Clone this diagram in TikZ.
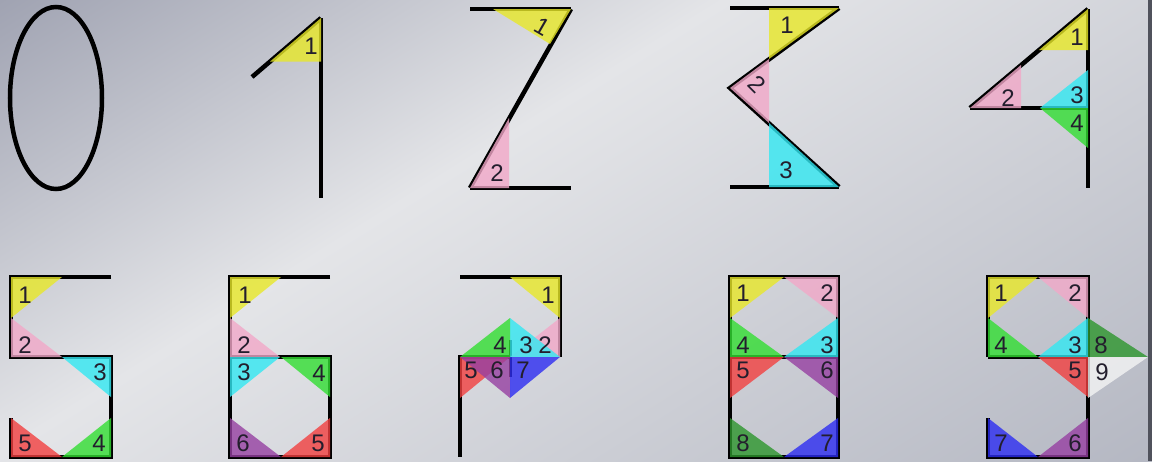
\documentclass[tikz,border=0pt]{standalone}
\usepackage{fontspec}
\setmainfont{Liberation Sans}
\definecolor{bgA}{RGB}{160,163,178}
\definecolor{bgB}{RGB}{228,229,232}
\definecolor{bgC}{RGB}{180,183,194}
\definecolor{bgD}{RGB}{80,82,92}
\definecolor{labc}{RGB}{35,30,45}
\definecolor{cY}{RGB}{232,232,40}
\definecolor{cP}{RGB}{242,168,200}
\definecolor{cC}{RGB}{50,232,242}
\definecolor{cG}{RGB}{50,222,50}
\definecolor{cR}{RGB}{242,64,64}
\definecolor{cV}{RGB}{150,64,162}
\definecolor{cB}{RGB}{45,45,242}
\definecolor{cD}{RGB}{45,150,45}
\definecolor{cW}{RGB}{244,244,244}
\pgfdeclarehorizontalshading{bgsh}{100bp}{color(0bp)=(bgA); color(25bp)=(bgA); color(44bp)=(bgB); color(75bp)=(bgC); color(100bp)=(bgC)}
\begin{document}
\begin{tikzpicture}[x=1pt,y=-1pt,
  ln/.style={line width=4.5pt, draw=black},
  tri/.style={fill opacity=0.8, draw=none},
  lab/.style={inner sep=0pt, text=labc, font=\fontsize{24}{24}\selectfont}]
\useasboundingbox (0,0) rectangle (1152,461);
\begin{scope}
\clip (0,0) rectangle (1152,461);
\begin{scope}[transform canvas={rotate=-58}]
\shade[shading=bgsh] (0pt,-260pt) rectangle (1010pt,1000pt);
\end{scope}
\end{scope}
\fill[bgD] (1148,0) rectangle (1152,461);

% ---- digit 0
\draw[line width=4.5pt] (56,98) ellipse [x radius=46, y radius=91];

% ---- digit 1
\draw[ln] (252,77) -- (321,18);
\draw[ln] (321,18) -- (321,198);
\fill[tri,cY] (321,18) -- (270,61.6) -- (321,61.6) -- cycle;
\node[lab] (oneA) at (311,46) {1};

% ---- digit 2
\draw[ln] (470,9) -- (571,9);
\draw[ln] (571,9) -- (470,188);
\draw[ln] (470,188) -- (571,188);
\fill[tri,cY] (493,9) -- (571,9) -- (550,44) -- cycle;
\fill[tri,cP] (470,188) -- (509,118) -- (509,188) -- cycle;
\node[lab,rotate=-30] (twoA) at (542,27) {1};
\node[lab] (twoB) at (497,173) {2};

% ---- digit 3
\draw[ln] (730,8) -- (839,8);
\draw[ln,line join=miter] (839,8) -- (730,88) -- (839,187);
\draw[ln] (730,187) -- (839,187);
\fill[tri,cY] (769,8) -- (839,8) -- (769,59) -- cycle;
\fill[tri,cP] (769,59) -- (730,88) -- (769,123) -- cycle;
\fill[tri,cC] (769,123) -- (769,187) -- (839,187) -- cycle;
\node[lab] (thrA) at (787,25) {1};
\node[lab,rotate=-45] (thrB) at (757,84) {2};
\node[lab] (thrC) at (786,170) {3};

% ---- digit 4
\draw[ln] (1088,9) -- (1088,188);
\draw[ln] (1088,9) -- (970,108);
\draw[ln] (970,108) -- (1088,108);
\fill[tri,cY] (1088,9) -- (1039,50) -- (1088,50) -- cycle;
\fill[tri,cP] (970,108) -- (1021,65) -- (1021,108) -- cycle;
\fill[tri,cC] (1088,70) -- (1040,108) -- (1088,108) -- cycle;
\fill[tri,cG] (1040,108) -- (1088,108) -- (1088,148) -- cycle;
\node[lab] (fouA) at (1077,37) {1};
\node[lab] (fouB) at (1008,98) {2};
\node[lab] (fouC) at (1077,95) {3};
\node[lab] (fouD) at (1077,123) {4};

% ---- digit 5
\draw[ln] (111,277) -- (11,277) -- (11,357) -- (111,357) -- (111,457) -- (11,457) -- (11,418);
\fill[tri,cY] (11,277) -- (62,277) -- (11,318) -- cycle;
\fill[tri,cP] (11,318) -- (11,357) -- (62,357) -- cycle;
\fill[tri,cC] (62,357) -- (111,357) -- (111,397) -- cycle;
\fill[tri,cG] (62,457) -- (111,457) -- (111,418) -- cycle;
\fill[tri,cR] (11,418) -- (11,457) -- (62,457) -- cycle;
\node[lab] (fivA) at (25,295) {1};
\node[lab] (fivB) at (25,345) {2};
\node[lab] (fivC) at (100,372) {3};
\node[lab] (fivD) at (99,443) {4};
\node[lab] (fivE) at (25,443) {5};

% ---- digit 6
\draw[ln] (330,277) -- (230,277) -- (230,457) -- (330,457) -- (330,357) -- (230,357);
\fill[tri,cY] (230,277) -- (281,277) -- (230,318) -- cycle;
\fill[tri,cP] (230,318) -- (230,357) -- (280,357) -- cycle;
\fill[tri,cC] (230,357) -- (280,357) -- (230,397) -- cycle;
\fill[tri,cG] (281,357) -- (330,357) -- (330,397) -- cycle;
\fill[tri,cR] (330,418) -- (330,457) -- (281,457) -- cycle;
\fill[tri,cV] (230,418) -- (230,457) -- (281,457) -- cycle;
\node[lab] (sixA) at (245,295) {1};
\node[lab] (sixB) at (244,345) {2};
\node[lab] (sixC) at (244,372) {3};
\node[lab] (sixD) at (319,373) {4};
\node[lab] (sixE) at (318,443) {5};
\node[lab] (sixF) at (243,443) {6};

% ---- digit 7
\draw[ln] (460,277) -- (560,277) -- (560,357);
\draw[ln] (510,357) -- (460,357) -- (460,457);
\draw[line width=3pt] (510,340) -- (510,377);
\fill[tri,cY] (510,277) -- (560,277) -- (560,318) -- cycle;
\fill[tri,cP] (560,318) -- (560,357) -- (510,357) -- cycle;
\fill[tri,cC] (510,318) -- (510,357) -- (560,357) -- cycle;
\fill[tri,cG] (510,318) -- (510,357) -- (460,357) -- cycle;
\fill[tri,cR] (460,357) -- (510,357) -- (460,398) -- cycle;
\fill[tri,cV] (460,357) -- (510,357) -- (510,398) -- cycle;
\fill[tri,cB] (510,357) -- (560,357) -- (510,398) -- cycle;
\node[lab] (sevA) at (548,295) {1};
\node[lab] (sevB) at (545,345) {2};
\node[lab] (sevC) at (526,345) {3};
\node[lab] (sevD) at (500,345) {4};
\node[lab] (sevE) at (471,370) {5};
\node[lab] (sevF) at (497,370) {6};
\node[lab] (sevG) at (523,370) {7};

% ---- digit 8
\draw[ln] (730,277) rectangle (838,457);
\draw[ln] (730,357) -- (838,357);
\fill[tri,cY] (730,277) -- (784,277) -- (730,318) -- cycle;
\fill[tri,cP] (784,277) -- (838,277) -- (838,318) -- cycle;
\fill[tri,cG] (730,318) -- (730,357) -- (784,357) -- cycle;
\fill[tri,cC] (838,318) -- (838,357) -- (784,357) -- cycle;
\fill[tri,cR] (730,357) -- (784,357) -- (730,398) -- cycle;
\fill[tri,cV] (784,357) -- (838,357) -- (838,398) -- cycle;
\fill[tri,cD] (730,418) -- (730,457) -- (784,457) -- cycle;
\fill[tri,cB] (838,418) -- (838,457) -- (784,457) -- cycle;
\node[lab] (eigA) at (743,293) {1};
\node[lab] (eigB) at (827,293) {2};
\node[lab] (eigC) at (827,345) {3};
\node[lab] (eigD) at (743,345) {4};
\node[lab] (eigE) at (743,370) {5};
\node[lab] (eigF) at (827,370) {6};
\node[lab] (eigG) at (827,443) {7};
\node[lab] (eigH) at (743,443) {8};

% ---- digit 9
\draw[ln] (988,357) -- (988,277) -- (1088,277) -- (1088,457) -- (988,457) -- (988,418);
\draw[ln] (988,357) -- (1088,357);
\fill[tri,cY] (988,277) -- (1038,277) -- (988,318) -- cycle;
\fill[tri,cP] (1038,277) -- (1088,277) -- (1088,318) -- cycle;
\fill[tri,cG] (988,318) -- (988,357) -- (1038,357) -- cycle;
\fill[tri,cC] (1088,318) -- (1088,357) -- (1038,357) -- cycle;
\fill[tri,cD] (1088,318) -- (1088,357) -- (1148,357) -- cycle;
\fill[tri,cR] (1038,357) -- (1088,357) -- (1088,397) -- cycle;
\fill[tri,cW] (1088,357) -- (1148,357) -- (1088,398) -- cycle;
\fill[tri,cV] (1088,418) -- (1088,457) -- (1038,457) -- cycle;
\fill[tri,cB] (988,418) -- (988,457) -- (1038,457) -- cycle;
\node[lab] (ninA) at (1001,293) {1};
\node[lab] (ninB) at (1075,293) {2};
\node[lab] (ninC) at (1075,345) {3};
\node[lab] (ninD) at (1001,345) {4};
\node[lab] (ninE) at (1075,370) {5};
\node[lab] (ninF) at (1075,443) {6};
\node[lab] (ninG) at (1001,443) {7};
\node[lab] (ninH) at (1101,345) {8};
\node[lab] (ninI) at (1102,372) {9};
\end{tikzpicture}
\end{document}
